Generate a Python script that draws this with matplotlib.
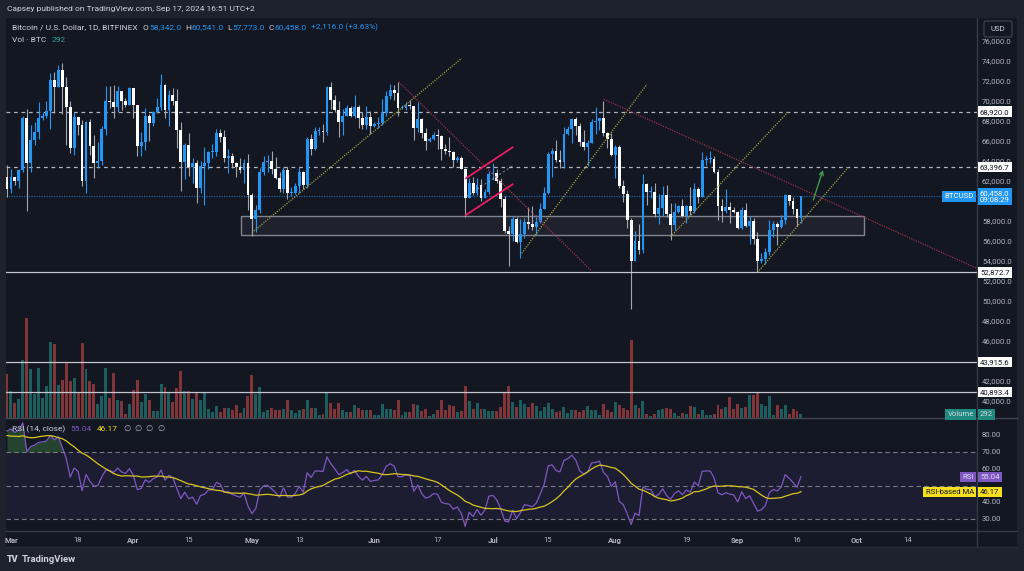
import matplotlib
matplotlib.use("Agg")
import matplotlib.pyplot as plt
import matplotlib.transforms as mtransforms
from matplotlib.patches import Rectangle, FancyBboxPatch
import numpy as np
import pandas as pd

plt.rcParams['font.family'] = ['Roboto', 'DejaVu Sans']

#region data
start_date = "2024-02-29"

# closes from Jan 28 to Feb 28, off screen, only used to seed the RSI
warmup_close = [42000, 43300, 42900, 42600, 43100, 43200, 43000, 42600, 42700, 43100,
                44300, 45300, 47100, 47700, 48300, 50000, 49700, 51800, 52000, 52100,
                51600, 52100, 51700, 52200, 51800, 51300, 50700, 51600, 51700, 54500,
                57100, 62400]

close = [61200,
    # Mar
    62400, 62000, 63100, 68300, 63800, 66100, 66900, 68300, 68500, 69000, 72100, 71400, 73100, 71400, 69400, 65300,
    68400, 67600, 62000, 67900, 65500, 63800, 64000, 67200, 70000, 69900, 69400, 71000, 70000, 69600, 71300,
    # Apr
    69600, 65500, 65900, 68500, 67800, 68900, 69400, 71600, 69100, 70600, 70000, 67100, 63900, 65600, 63400,
    63800, 61300, 63500, 63800, 64900, 64900, 66800, 66400, 64300, 64500, 63800, 63400, 63100, 63800, 60600,
    # May
    58200, 59100, 62900, 63900, 64000, 63200, 62300, 61200, 63100, 60800, 60800, 61500, 62900, 61600, 66200, 65200,
    67000, 67000, 66900, 71400, 70100, 69100, 67900, 68500, 69300, 68500, 69400, 68300, 67600, 68400, 67500,
    # Jun
    67700, 67800, 68800, 70500, 71100, 70800, 69300, 69300, 69600, 69500, 67300, 68200, 66800, 66000, 66200,
    66600, 66500, 65200, 65000, 64900, 64100, 64300, 63200, 60300, 61800, 60800, 61600, 60300, 60900, 62700,
    # Jul
    62800, 62000, 60200, 57000, 56700, 58200, 55900, 56700, 57900, 57700, 57400, 57900, 59200, 60800, 64700, 65000,
    64100, 63900, 66700, 67200, 68200, 67500, 65900, 65400, 65800, 67900, 68000, 68300, 66800, 66200, 64600,
    # Aug
    65400, 61500, 60700, 58100, 54000, 56000, 55100, 61700, 60900, 60900, 58700, 59300, 60600, 58700, 57600, 58900,
    59500, 58500, 59500, 59000, 61200, 60400, 64100, 64200, 64200, 62900, 59500, 59000, 59400, 59100, 58900,
    # Sep
    57300, 59100, 57500, 58000, 56200, 54000, 54200, 54900, 57100, 57700, 57400, 58100, 60600, 60000, 59200,
    58342, 60458]

high = [63600,
    63200, 62400, 63200, 68500, 69200, 67600, 67900, 69900, 68900, 70000, 72800, 72900, 73600, 73800, 72400, 70000,
    68900, 68200, 68100, 68000, 68200, 66600, 65900, 67500, 71500, 71500, 71600, 71500, 70900, 70300, 71400,
    71300, 69600, 66900, 69300, 68700, 69000, 70300, 72700, 71700, 71100, 71300, 71200, 67900, 65800, 66800,
    64300, 64100, 64000, 65400, 65000, 65700, 67200, 67200, 67100, 65200, 64800, 63900, 64300, 64200, 64700,
    60800, 59600, 63300, 64500, 64600, 65000, 64400, 62900, 63400, 63400, 61400, 61800, 63400, 63000, 66400, 66700,
    67400, 67400, 67700, 71500, 71900, 70600, 70000, 69200, 69600, 69500, 70600, 69600, 68900, 69500, 69000,
    67900, 68400, 70200, 71000, 71700, 71600, 71900, 69600, 69900, 70100, 69500, 69900, 68300, 67300, 66400,
    66900, 67200, 66600, 65700, 66400, 65000, 64500, 64500, 63300, 62300, 62400, 62300, 62200, 61200, 63000,
    63800, 63200, 62300, 60500, 57500, 58500, 58400, 58200, 58300, 59400, 59500, 58600, 59800, 61400, 64900, 65300,
    66100, 65100, 67400, 67500, 68300, 68400, 67800, 67100, 66100, 68200, 69400, 68300, 70000, 66900, 66800,
    65600, 65600, 62100, 61100, 58300, 57000, 57700, 62700, 61800, 61500, 61800, 60700, 61500, 61600, 59800, 59800,
    59600, 60200, 59600, 61400, 61800, 61400, 64900, 64500, 65000, 64500, 63200, 60200, 61200, 59900, 59400,
    59000, 59400, 59800, 58500, 58300, 56900, 54800, 55300, 58100, 58000, 57900, 58600, 60700, 60600, 60400,
    59200, 60541]

low = [60400,
    60800, 61600, 61300, 62900, 59000, 62900, 65600, 66200, 68100, 68300, 67200, 68800, 71400, 68700, 65600, 64800,
    64600, 66600, 61500, 60800, 64600, 62300, 63300, 63600, 66600, 69300, 68300, 68900, 69100, 69400, 69600,
    68300, 64500, 64500, 65100, 66000, 67500, 68800, 69100, 68300, 67500, 69600, 65300, 61000, 62200, 62500,
    61800, 59800, 60800, 59600, 63200, 64300, 64500, 65900, 63900, 62800, 63300, 62400, 62800, 61800, 59100,
    56500, 56900, 58800, 62600, 62900, 62700, 62200, 60900, 60800, 60200, 60500, 60700, 60800, 61200, 61300, 64600,
    65100, 66600, 65900, 66600, 69200, 68900, 66400, 66600, 68500, 68400, 68300, 67300, 67200, 67200, 66700,
    67400, 67300, 67600, 68500, 70200, 70100, 68500, 69200, 69100, 69200, 66100, 66900, 66300, 65100, 65900,
    66100, 65200, 64100, 64700, 64500, 63400, 63900, 63200, 58400, 60300, 60600, 60600, 60000, 60300, 60700,
    62100, 61800, 59400, 56800, 53500, 56000, 55800, 54300, 56300, 57200, 57100, 56600, 57800, 59300, 60700, 62400,
    63900, 63300, 63300, 66600, 65800, 66600, 65500, 65100, 63500, 65800, 66700, 67100, 66500, 65300, 64500,
    62300, 61300, 59900, 57300, 49200, 54000, 54700, 54800, 59600, 60300, 58400, 57700, 58500, 58400, 56100, 57100,
    58800, 58400, 57800, 58600, 58800, 59800, 60400, 63600, 63800, 62800, 58100, 57900, 58800, 57800, 58800,
    57200, 57200, 57400, 55700, 55700, 52873, 53800, 53700, 54600, 56400, 55600, 57300, 57700, 59600, 58700,
    57500, 57773]

# BTC traded per day
volume = [3520,
    2160, 1200, 1520, 4640, 8000, 3920, 1920, 4000, 1600, 2560, 6080, 5920, 2640, 3040, 4400, 2960,
    3200, 2000, 6000, 3920, 2960, 2720, 1120, 1760, 4000, 1600, 3600, 1440, 1360, 320, 1120,
    2240, 3040, 1280, 1920, 1440, 560, 560, 2720, 2480, 2080, 1280, 2400, 3760, 2160, 2160,
    1520, 2000, 1440, 2000, 720, 480, 960, 480, 800, 800, 640, 1040, 400, 800, 1760,
    3440, 1920, 2480, 480, 640, 800, 640, 640, 720, 1440, 640, 400, 640, 720, 1440, 800,
    800, 240, 320, 2000, 1200, 720, 1200, 640, 480, 480, 1040, 800, 640, 640, 640,
    240, 240, 1120, 720, 720, 640, 1440, 240, 480, 480, 1120, 1040, 560, 720, 160,
    320, 640, 1440, 640, 1040, 960, 480, 560, 2560, 1360, 720, 1200, 720, 720, 560,
    560, 560, 880, 2080, 2560, 1280, 880, 1440, 1120, 880, 1200, 960, 560, 880, 1200, 720,
    480, 560, 880, 400, 640, 640, 480, 640, 960, 640, 640, 240, 1120, 640, 480,
    1280, 1040, 800, 640, 6240, 1040, 800, 1360, 320, 160, 320, 640, 720, 800, 720, 400,
    160, 400, 320, 960, 880, 320, 640, 240, 240, 320, 1040, 720, 880, 1680, 720,
    1120, 800, 880, 1840, 1840, 2080, 1120, 960, 1760, 240, 1040, 720, 1040, 320, 720,
    560, 292]

last_price = 60458.0
last_rsi, last_rsi_ma = 55.04, 46.17
dashed_levels = [68920.0, 63396.7]
solid_levels = [52872.7, 43915.6, 40893.4]
price_ticks = list(range(40000, 76001, 2000))
rsi_ticks = [30, 40, 50, 60, 70, 80]

tick_dates = ["2024-03-01", "2024-03-18", "2024-04-01", "2024-04-15", "2024-05-01", "2024-05-13",
              "2024-06-01", "2024-06-17", "2024-07-01", "2024-07-15", "2024-08-01", "2024-08-19",
              "2024-09-01", "2024-09-16", "2024-10-01", "2024-10-14"]

# drawings: (day since start, price)
olive_lines = [((62.0, 56830), (115.1, 74270)),
               ((130.3, 54770), (162.0, 71670)),
               ((168.0, 56430), (197.8, 68930)),
               ((190.0, 52870), (213.0, 63370))]
red_lines = [((99.2, 71900), (148.0, 53000)),
             ((151.1, 70170), (245.5, 53270))]
channel_top = ((116.2, 62270), (128.0, 65370))
channel_bottom = ((116.2, 58600), (128.0, 61670))
green_arrow = ((203.9, 59830), (206.8, 63370))
zone_days = (59.2, 217.0)
zone_prices = (56570, 58500)
#endregion

W, H = 1024, 571
BG = '#131722'
FRAME = '#1e222d'
TXT = '#b2b5be'
LIGHT = '#d1d4dc'
BLUE = '#2196f3'
TEAL = '#26a69a'
RED = '#ef5350'
PURPLE = '#7e57c2'
YELLOW = '#f5df1b'
FS_AX = 5.6
FS_HDR = 6.0


def px_rect(x0, y0, x1, y1):
    return [x0 / W, 1 - y1 / H, (x1 - x0) / W, (y1 - y0) / H]


fig = plt.figure(figsize=(W / 100, H / 100), dpi=100, facecolor=FRAME)

bg = fig.add_axes([0, 0, 1, 1], zorder=0)
bg.set_xlim(0, W)
bg.set_ylim(H, 0)
bg.axis('off')
bg.add_patch(Rectangle((6, 18), 1011, 529, fc=BG, ec='none'))

vol_ax = fig.add_axes(px_rect(6, 18, 977, 418), zorder=1)
ax = fig.add_axes(px_rect(6, 18, 977, 418), zorder=2)
rsi_ax = fig.add_axes(px_rect(6, 418, 977, 531), zorder=1)
top = fig.add_axes([0, 0, 1, 1], zorder=10)
top.set_xlim(0, W)
top.set_ylim(H, 0)
top.axis('off')

xlim = (-0.253, 245.57)
for a in (vol_ax, ax, rsi_ax):
    a.set_facecolor('none')
    a.set_xlim(*xlim)
    for s in a.spines.values():
        s.set_visible(False)
    a.set_yticks([])
ax.set_xticks([])
vol_ax.set_xticks([])
ax.set_ylim(38300, 78300)
vol_ax.set_ylim(0, 32000)
rsi_ax.set_ylim(22.84, 90.3)

c = np.array(close, float)
o = np.concatenate([[warmup_close[-1]], c[:-1]])
hi = np.maximum(np.array(high, float), np.maximum(o, c))
lo = np.minimum(np.array(low, float), np.minimum(o, c))
x = np.arange(len(c))
up = c >= o

# volume
vol_ax.bar(x, volume, width=0.75, color=np.where(up, TEAL, RED), alpha=0.5, linewidth=0)

# candles
ax.vlines(x, lo, hi, colors=np.where(up, BLUE, '#a3a6af'), linewidth=0.8, zorder=3)
body = np.maximum(np.abs(c - o), 70)
ax.bar(x, body, bottom=np.minimum(o, c), width=0.72, color=np.where(up, BLUE, '#ffffff'),
       linewidth=0, zorder=4)

# levels
for lv in dashed_levels:
    ax.axhline(lv, color=TXT, lw=0.9, ls=(0, (3, 3)), zorder=2)
for lv in solid_levels:
    ax.axhline(lv, color='#c3c6ce', lw=0.9, zorder=5)
ax.axhline(last_price, color=BLUE, lw=0.9, ls=(0, (1, 1)), alpha=0.6, zorder=2)

# zone
ax.add_patch(Rectangle((zone_days[0], zone_prices[0]), zone_days[1] - zone_days[0],
                       zone_prices[1] - zone_prices[0], fc=(1, 1, 1, 0.05), ec='#80838e', lw=1, zorder=2))

# trend lines
for (d0, p0), (d1, p1) in olive_lines:
    ax.plot([d0, d1], [p0, p1], color='#a39e3a', lw=0.9, ls=(0, (1, 1)), zorder=5)
for (d0, p0), (d1, p1) in red_lines:
    ax.plot([d0, d1], [p0, p1], color='#a0304a', lw=0.9, ls=(0, (1, 1)), zorder=5)
for (d0, p0), (d1, p1) in (channel_top, channel_bottom):
    ax.plot([d0, d1], [p0, p1], color='#e91e63', lw=1.3, zorder=6)
ax.plot([channel_top[0][0], channel_top[1][0]],
        [(channel_top[0][1] + channel_bottom[0][1]) / 2, (channel_top[1][1] + channel_bottom[1][1]) / 2],
        color=TXT, lw=0.8, ls=(0, (2, 2)), alpha=0.6, zorder=6)
ax.annotate('', xy=green_arrow[1], xytext=green_arrow[0],
            arrowprops=dict(arrowstyle='->', color='#3f9a48', lw=1, mutation_scale=7), zorder=6)

# RSI
all_c = np.array(warmup_close + close, float)
d = np.diff(all_c)
gain = np.clip(d, 0, None)
loss = np.clip(-d, 0, None)
n = 14
ag = np.full(len(d), np.nan)
al = np.full(len(d), np.nan)
ag[n - 1] = gain[:n].mean()
al[n - 1] = loss[:n].mean()
for i in range(n, len(d)):
    ag[i] = (ag[i - 1] * (n - 1) + gain[i]) / n
    al[i] = (al[i - 1] * (n - 1) + loss[i]) / n
rsi_all = 100 - 100 / (1 + ag / al)
rsi_ma_all = pd.Series(rsi_all).rolling(14).mean().to_numpy()
rsi = rsi_all[-len(c):]
rsi_ma = rsi_ma_all[-len(c):]

rsi_ax.axhspan(30, 70, color=PURPLE, alpha=0.1, lw=0)
for lv in (70, 50, 30):
    rsi_ax.axhline(lv, color='#787b86', lw=0.8, ls=(0, (4, 3)))
rsi_ax.fill_between(x, 70, rsi, where=rsi > 70, interpolate=True, color='#4caf50', alpha=0.3, lw=0)
rsi_ax.fill_between(x, 30, rsi, where=rsi < 30, interpolate=True, color='#f23645', alpha=0.3, lw=0)
rsi_ax.plot(x, rsi, color=PURPLE, lw=0.9)
rsi_ax.plot(x, rsi_ma, color='#d9c41e', lw=0.9)

# time axis
t0 = pd.Timestamp(start_date)
tpos = [(pd.Timestamp(t) - t0).days for t in tick_dates]
tlab = [pd.Timestamp(t).strftime('%b') if pd.Timestamp(t).day == 1 else str(pd.Timestamp(t).day)
        for t in tick_dates]
rsi_ax.set_xticks(tpos)
rsi_ax.set_xticklabels(tlab)
rsi_ax.tick_params(axis='x', length=0, pad=4.5, labelsize=FS_AX, colors=TXT)
for lab in rsi_ax.get_xticklabels():
    if not lab.get_text().isdigit():
        lab.set_fontweight('bold')

# frame lines
top.plot([977, 977], [18, 547], color='#363a45', lw=1)
top.plot([6, 1017], [418, 418], color='#434651', lw=1)
top.plot([6, 1017], [531, 531], color='#363a45', lw=1)
top.plot([6, 1017], [547, 547], color='#2a2e39', lw=1)

tr_price = mtransforms.blended_transform_factory(top.transData, ax.transData)
tr_vol = mtransforms.blended_transform_factory(top.transData, vol_ax.transData)
tr_rsi = mtransforms.blended_transform_factory(top.transData, rsi_ax.transData)

tagged = dashed_levels + solid_levels + [last_price]
for p in price_ticks:
    if min(abs(p - t) for t in tagged) < 600:
        continue  # hidden behind a price tag
    top.text(982, p, f"{p:,.1f}", transform=tr_price, fontsize=FS_AX, color=TXT, va='center', zorder=11)
for v in rsi_ticks:
    if v == 50:
        continue  # covered by the RSI tags
    top.text(982, v, f"{v:.2f}", transform=tr_rsi, fontsize=FS_AX, color=TXT, va='center', zorder=11)


def tag(xp, y, s, tr, fc, tc, ha='left', pad=0.3, **kw):
    top.text(xp, y, s, transform=tr, ha=ha, va='center', fontsize=FS_AX, color=tc,
             bbox=dict(boxstyle=f'square,pad={pad}', fc=fc, ec='none'), zorder=12, **kw)


for lv in dashed_levels + solid_levels:
    tag(980, lv, f"{lv:,.1f}", tr_price, '#ffffff', '#131722')
tag(980, last_price, f"{last_price:,.1f}\n09:08:29", tr_price, BLUE, '#ffffff', linespacing=1.1)
tag(974, last_price, "BTCUSD", tr_price, BLUE, '#ffffff', ha='right')
tag(980, volume[-1], f"{volume[-1]}", tr_vol, '#1f8a80', LIGHT)
tag(974, volume[-1], "Volume", tr_vol, '#1f8a80', LIGHT, ha='right')
tag(980, last_rsi, f"{last_rsi:.2f}", tr_rsi, PURPLE, '#e0dcef')
tag(974, last_rsi, "RSI", tr_rsi, PURPLE, '#e0dcef', ha='right')
tag(980, last_rsi_ma, f"{last_rsi_ma:.2f}", tr_rsi, YELLOW, '#131722')
tag(974, last_rsi_ma, "RSI-based MA", tr_rsi, YELLOW, '#131722', ha='right')

# USD box
top.add_patch(FancyBboxPatch((984, 21), 28, 16, boxstyle='round,pad=0,rounding_size=2',
                             fc=BG, ec='#434651', lw=0.8, zorder=13))
top.text(998, 29, "USD", fontsize=FS_AX, color=LIGHT, ha='center', va='center', zorder=14)

# headers, placed one piece after another
fig.canvas.draw()
renderer = fig.canvas.get_renderer()


def text_row(x0, y, parts, fs=FS_HDR):
    xp = x0
    for s, col, gap in parts:
        t = top.text(xp, y, s, fontsize=fs, color=col, va='center')
        xp += t.get_window_extent(renderer).width + gap


top.text(7, 9.5, "Capsey published on TradingView.com, Sep 17, 2024 16:51 UTC+2",
         fontsize=FS_HDR, color=LIGHT, va='center')
text_row(12, 27.5, [("Bitcoin / U.S. Dollar, 1D, BITFINEX", LIGHT, 5),
                    ("O", LIGHT, 0.5), ("58,342.0", BLUE, 4),
                    ("H", LIGHT, 0.5), ("60,541.0", BLUE, 4),
                    ("L", LIGHT, 0.5), ("57,773.0", BLUE, 4),
                    ("C", LIGHT, 0.5), ("60,458.0", BLUE, 4),
                    ("+2,116.0 (+3.63%)", BLUE, 0)])
text_row(12, 39.5, [("Vol · BTC", LIGHT, 5), (f"{volume[-1]}", TEAL, 0)])
text_row(12, 429, [("RSI (14, close)", LIGHT, 5), (f"{last_rsi:.2f}", PURPLE, 5),
                   (f"{last_rsi_ma:.2f}", YELLOW, 6),
                   ("∅", TXT, 4), ("∅", TXT, 4), ("∅", TXT, 4), ("∅", TXT, 0)])

# bottom bar
top.text(7, 560, "TV", fontsize=6.5, color=LIGHT, va='center', fontweight='heavy')
top.text(22, 560, "TradingView", fontsize=6.8, color=LIGHT, va='center', fontweight='semibold')

fig.savefig("out.png", dpi=100, facecolor=FRAME)
